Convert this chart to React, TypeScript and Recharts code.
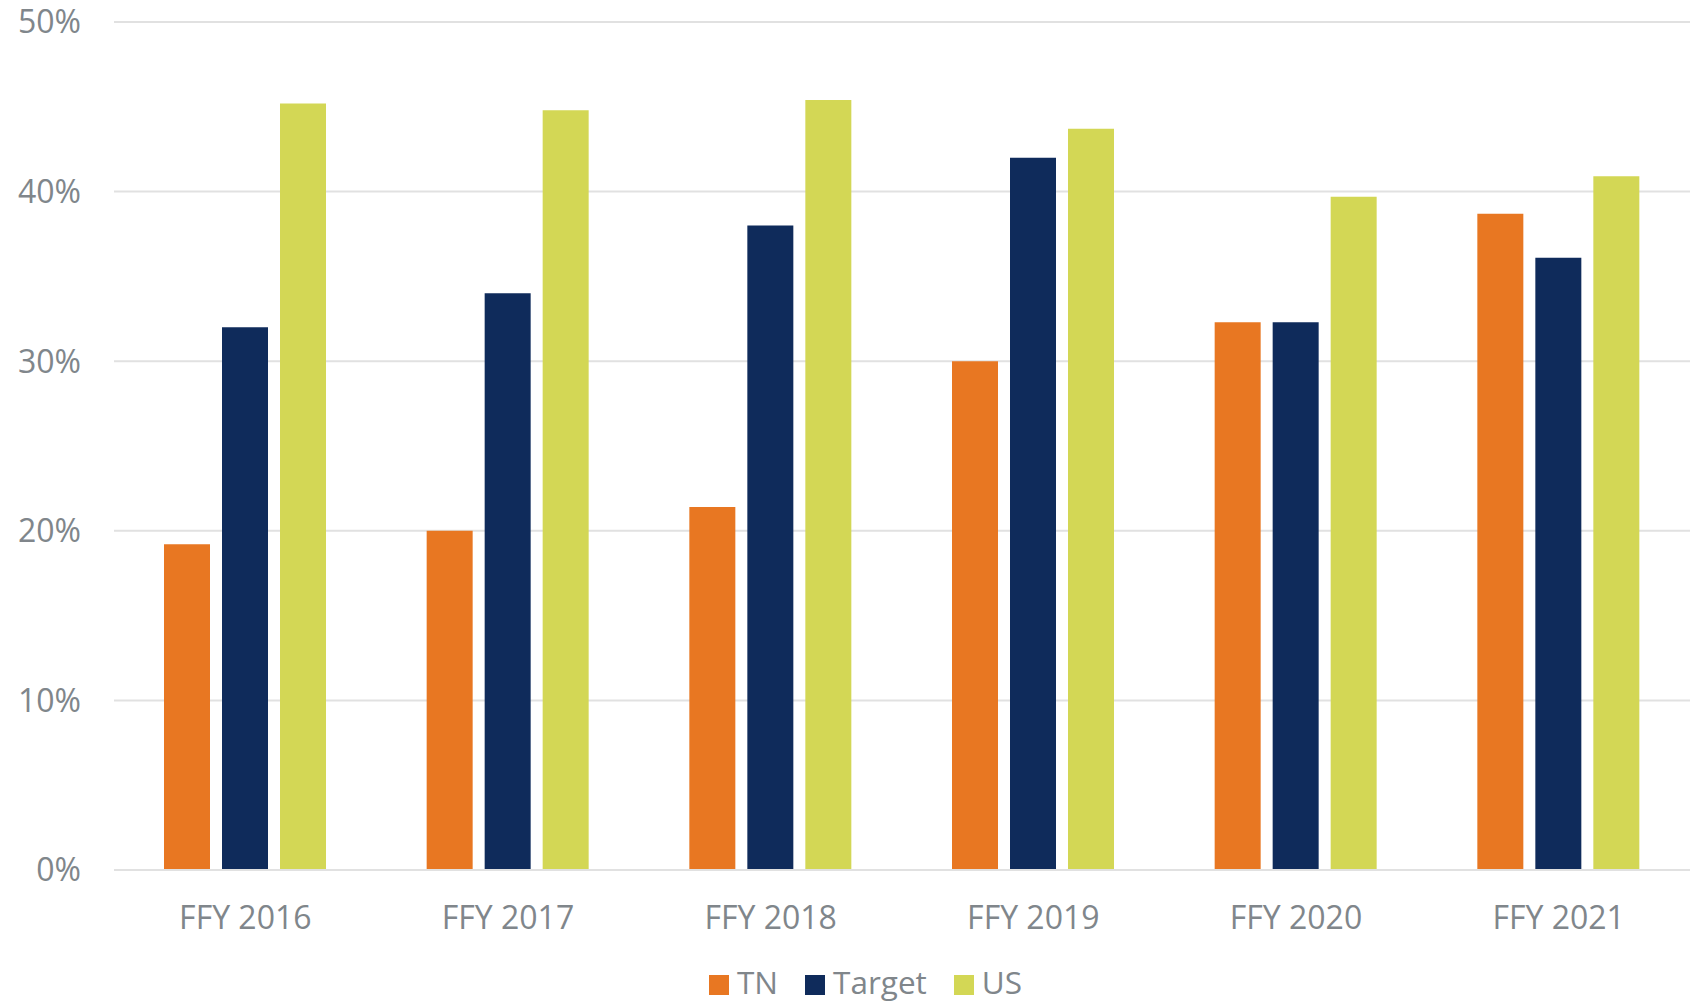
import React from 'react';
import { BarChart, Bar, XAxis, YAxis, CartesianGrid, Legend } from 'recharts';

const categories = ['FFY 2016', 'FFY 2017', 'FFY 2018', 'FFY 2019', 'FFY 2020', 'FFY 2021'];
const tnValues = [19.2, 20.0, 21.4, 30.0, 32.3, 38.7];
const targetValues = [32, 34, 38, 42, 32.3, 36.1];
const usValues = [45.2, 44.8, 45.4, 43.7, 39.7, 40.9];
const yTicks = [0, 10, 20, 30, 40, 50];

const SERIES = [
  { key: 'tn', name: 'TN', color: '#E87722' },
  { key: 'target', name: 'Target', color: '#0F2B5B' },
  { key: 'us', name: 'US', color: '#D3D755' },
];

const TEXT = '#80868b';
const FONT = '"Open Sans", sans-serif';

const data = categories.map((c, i) => ({
  year: c,
  tn: tnValues[i],
  target: targetValues[i],
  us: usValues[i],
}));

// plain legend: square swatch + label
const renderLegend = () => (
  <div style={{ display: 'flex', alignItems: 'center', height: 40, fontFamily: FONT, fontSize: 31.5, color: TEXT, lineHeight: '40px' }}>
    {SERIES.map((s, i) => (
      <span key={s.key} style={{ display: 'flex', alignItems: 'center', marginRight: i < SERIES.length - 1 ? 27 : 0 }}>
        <span style={{ width: 20, height: 20, backgroundColor: s.color, marginRight: 8, marginTop: 6 }} />
        {s.name}
      </span>
    ))}
  </div>
);

const App: React.FC = () => {
  return (
    <div style={{ width: 1691, height: 1002, background: '#fff', fontFamily: FONT }}>
      <style>{'body{margin:0}'}</style>
      <BarChart
        width={1691}
        height={1002}
        data={data}
        margin={{ top: 22, right: 1, left: 0, bottom: 0 }}
        barSize={46}
        barGap={12}
      >
        <CartesianGrid vertical={false} stroke="#e1e1e1" strokeWidth={2} />
        <XAxis
          dataKey="year"
          height={92}
          axisLine={{ stroke: '#e1e1e1', strokeWidth: 2 }}
          tickLine={false}
          tickSize={0}
          tickMargin={36}
          tick={{ fill: TEXT, fontSize: 32, fontFamily: FONT }}
        />
        <YAxis
          width={114}
          domain={[0, 50]}
          ticks={yTicks}
          axisLine={false}
          tickLine={false}
          tickSize={0}
          tickMargin={33}
          tickFormatter={(v: number) => `${v}%`}
          tick={{ fill: TEXT, fontSize: 32, fontFamily: FONT }}
        />
        <Legend
          verticalAlign="bottom"
          content={renderLegend}
          wrapperStyle={{ left: 709, width: 'auto' }}
        />
        {SERIES.map(s => (
          <Bar key={s.key} dataKey={s.key} name={s.name} fill={s.color} isAnimationActive={false} />
        ))}
      </BarChart>
    </div>
  );
};

export default App;
